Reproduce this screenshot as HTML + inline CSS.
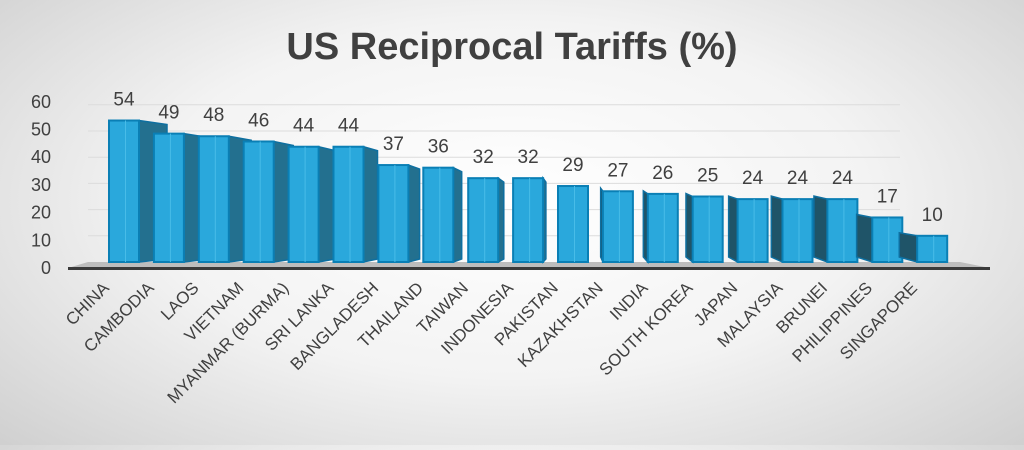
<!DOCTYPE html>
<html><head><meta charset="utf-8"><style>
html,body{margin:0;padding:0}
body{width:1024px;height:445px;overflow:hidden;background:radial-gradient(ellipse 70% 80% at 50% 45%,#ffffff 0%,#f3f3f3 50%,#cfcfcf 100%);font-family:"Liberation Sans",sans-serif}
</style></head><body>
<svg width="1024" height="445" viewBox="0 0 1024 445" xmlns="http://www.w3.org/2000/svg" font-family="Liberation Sans, sans-serif">
<text x="512" y="59" text-anchor="middle" font-size="38" font-weight="bold" fill="#404040">US Reciprocal Tariffs (%)</text>
<g id="grid" stroke="#dcdcdc" stroke-width="1"></g>
<g id="yl" fill="#404040" font-size="18" text-anchor="end"></g>
<polygon points="88,262 960,262 990,268 68,268" fill="#bdbdbd"/>
<line x1="68" y1="268.5" x2="990" y2="268.5" stroke="#3a3a3a" stroke-width="3"/>
<g id="bars"></g>
<g id="vl" fill="#404040" font-size="19" text-anchor="middle"></g>
<g id="cl" fill="#404040" font-size="17" text-anchor="end"></g>
</svg>
<script>
(function(){
var v=[54,49,48,46,44,44,37,36,32,32,29,27,26,25,24,24,24,17,10];
var n=["CHINA","CAMBODIA","LAOS","VIETNAM","MYANMAR (BURMA)","SRI LANKA","BANGLADESH","THAILAND","TAIWAN","INDONESIA","PAKISTAN","KAZAKHSTAN","INDIA","SOUTH KOREA","JAPAN","MALAYSIA","BRUNEI","PHILIPPINES","SINGAPORE"];
var NS="http://www.w3.org/2000/svg";
function el(p,t,a,txt){var e=document.createElementNS(NS,t);for(var k in a)e.setAttribute(k,a[k]);if(txt!=null)e.textContent=txt;document.getElementById(p).appendChild(e);}
var base=262,s=2.62;
for(var g=0;g<=6;g++){var y=base-g*10*s;el("yl","text",{x:51,y:268-g*27.7+6},String(g*10));if(g>0)el("grid","line",{x1:88,y1:y,x2:900,y2:y});}
for(var i=0;i<19;i++){
 var cx=124+i*44.9,w=30,x0=cx-w/2,x1=cx+w/2,ty=base-v[i]*s;
 var d=(10-i)*2.8;
 if(d>0){el("bars","polygon",{points:x1+","+ty+" "+(x1+d)+","+(ty+4)+" "+(x1+d)+","+(base-3)+" "+x1+","+base,fill:"#23708f",stroke:"#0e6fa0","stroke-width":1.5});}
 else if(d<0){el("bars","polygon",{points:x0+","+ty+" "+(x0+d*0.8)+","+(ty-3)+" "+(x0+d*0.8)+","+(base-5)+" "+x0+","+base,fill:"#1f5468",stroke:"#0e6fa0","stroke-width":1.5});}
 el("bars","rect",{x:x0,y:ty,width:w,height:base-ty,fill:"#2aa8dc",stroke:"#0a7fb5","stroke-width":2});
 el("bars","line",{x1:x0+w*0.55,y1:ty,x2:x0+w*0.55,y2:base,stroke:"#48bce8","stroke-width":1});
 el("vl","text",{x:cx,y:ty-15},String(v[i]));
 var lx=cx-14,ly=289;
 el("cl","text",{x:lx,y:ly,transform:"rotate(-45 "+lx+" "+ly+")"},n[i]);
}
})();
</script>
</body></html>
